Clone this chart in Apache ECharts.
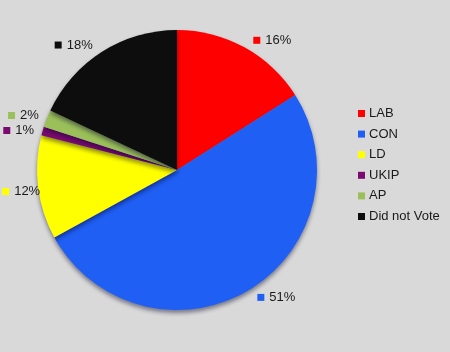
<!DOCTYPE html>
<html><head><meta charset="utf-8">
<script src="https://cdn.jsdelivr.net/npm/echarts@6/dist/echarts.min.js"></script>
<style>html,body{margin:0;padding:0;background:#d9d9d9;}#c{width:450px;height:352px;}</style>
</head><body><div id="c"></div>
<script>
const categories = ['LAB', 'CON', 'LD', 'UKIP', 'AP', 'Did not Vote'];
const values = [16, 51, 12, 1, 2, 18];
const palette = ['#ff0000', '#1f5ff4', '#ffff00', '#7b0a70', '#9bc05a', '#0d0d0d'];

const rich = {};
palette.forEach((c, i) => { rich['m' + i] = { width: 7, height: 7, backgroundColor: c }; });
rich.t = { fontSize: 13, color: '#1a1a1a', fontFamily: 'Liberation Sans, Arial, sans-serif', padding: [0, 0, 0, 5] };

const chart = echarts.init(document.getElementById('c'), null, { renderer: 'canvas' });
chart.setOption({
  backgroundColor: '#d9d9d9',
  animation: false,
  legend: {
    orient: 'vertical', left: 353, top: 102,
    icon: 'rect', itemWidth: 7, itemHeight: 7, itemGap: 7.6,
    textStyle: { fontSize: 13, color: '#1a1a1a', fontFamily: 'Liberation Sans, Arial, sans-serif', padding: [0, 0, 0, -1] },
    data: categories
  },
  series: [{
    type: 'pie',
    center: [177, 170],
    radius: 140,
    startAngle: 90,
    clockwise: true,
    avoidLabelOverlap: true,
    itemStyle: { shadowColor: 'rgba(0,0,40,0.45)', shadowBlur: 4, shadowOffsetY: 3 },
    label: {
      show: true, position: 'outside', overflow: 'none', bleedMargin: 0,
      formatter: p => '{m' + p.dataIndex + '|}{t|' + p.value + '%}',
      rich: rich
    },
    labelLine: { show: false, length: 8, length2: 0 },
    labelLayout: p => (p.dataIndex === 2 ? { dx: 10, dy: 3 } : {}),
    data: categories.map((n, i) => ({ name: n, value: values[i], itemStyle: { color: palette[i] } }))
  }]
});
</script></body></html>
